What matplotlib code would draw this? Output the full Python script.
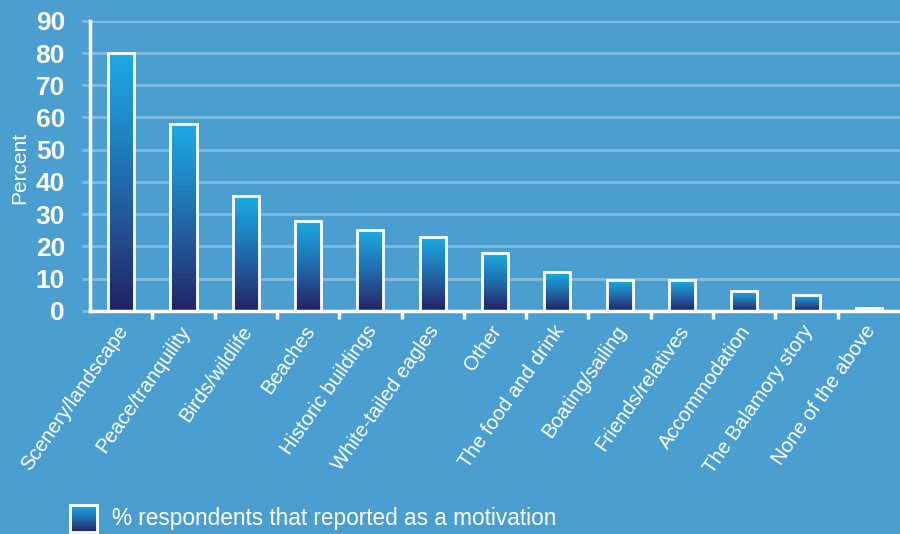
import matplotlib
matplotlib.use("Agg")
import matplotlib.pyplot as plt
import numpy as np
from matplotlib.colors import LinearSegmentedColormap
from matplotlib.patches import Rectangle

categories = ["Scenery/landscape", "Peace/tranquility", "Birds/wildlife", "Beaches",
              "Historic buildings", "White-tailed eagles", "Other", "The food and drink",
              "Boating/sailing", "Friends/relatives", "Accommodation", "The Balamory story",
              "None of the above"]
values = [80, 58, 35.5, 28, 25, 23, 18, 12, 9.5, 9.5, 6.2, 5, 1]
yticks = [0, 10, 20, 30, 40, 50, 60, 70, 80, 90]
legend_label = "% respondents that reported as a motivation"

BG = "#4a9fd0"
GRID = "#7fbbdf"
cmap = LinearSegmentedColormap.from_list("g", ["#212262", "#245394", "#1e82c0", "#1eaae2"])

fig = plt.figure(figsize=(9, 5.34), dpi=100, facecolor=BG)
ax = fig.add_axes([0.1, 0.418, 0.9, 0.543])
ax.set_facecolor(BG)

x = np.arange(len(categories))
w = 0.42

for yv in yticks[1:]:
    ax.axhline(yv, color=GRID, lw=2.2, zorder=1)

grad = np.linspace(0, 1, 256).reshape(-1, 1)
bars = ax.bar(x, values, width=w, facecolor="none", edgecolor="white", lw=2, zorder=4)
for b in bars:
    x0, y0 = b.get_x(), b.get_y()
    bw, bh = b.get_width(), b.get_height()
    im = ax.imshow(grad, cmap=cmap, origin="lower", aspect="auto",
                   extent=[x0, x0 + bw, y0, y0 + bh], zorder=3)
    clip = Rectangle((x0, y0), bw, bh, transform=ax.transData)
    im.set_clip_path(clip)
ax.set_xlim(-0.5, len(categories) - 0.5)
ax.set_ylim(0, 90)

for s in ["top", "right"]:
    ax.spines[s].set_visible(False)
for s in ["left", "bottom"]:
    ax.spines[s].set_color("white")
    ax.spines[s].set_linewidth(2.5)
ax.spines["bottom"].set_zorder(5)

ax.set_yticks(yticks)
ax.set_yticklabels([str(v) for v in yticks], fontsize=19, fontweight="bold",
                   color="white", family="Liberation Sans")
ax.tick_params(axis="y", length=6, width=2.2, color=GRID, pad=12)

ax.set_xticks(np.arange(len(categories) - 1) + 0.5)
ax.set_xticklabels([])
ax.tick_params(axis="x", length=6, width=2.5, color="white", direction="out")

for i, c in enumerate(categories):
    ax.text(i - 0.08, -3.5, c, rotation=55, rotation_mode="anchor", ha="right", va="top",
            fontsize=14.6, color="white", family="Liberation Sans", transform=ax.transData)

fig.text(20 / 900, 1 - 168 / 534, "Percent", rotation=90, fontsize=15, color="white",
         family="Liberation Sans", ha="center", va="center")

# legend
lx = fig.add_axes([70 / 900, 1 - 532 / 534, 27 / 900, 27 / 534])
lx.imshow(grad, cmap=cmap, origin="lower", aspect="auto", extent=[0, 1, 0, 1])
lx.set_xticks([]); lx.set_yticks([])
for s in lx.spines.values():
    s.set_color("white"); s.set_linewidth(2)
fig.text(112 / 900, 1 - 519 / 534, legend_label, fontsize=16.3, color="white",
         family="Liberation Sans", va="center", ha="left")

fig.savefig("out.png", dpi=100, facecolor=BG)
